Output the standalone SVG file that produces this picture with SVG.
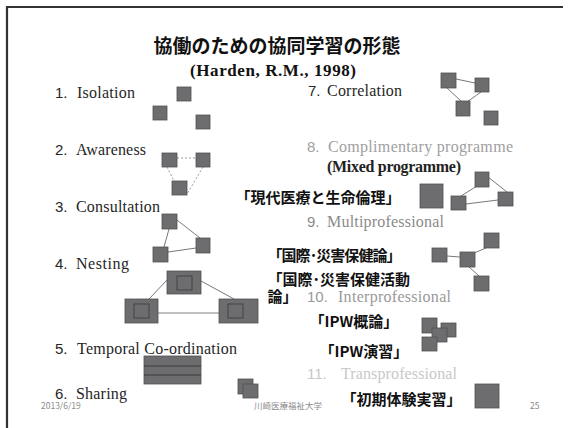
<svg xmlns="http://www.w3.org/2000/svg" width="568" height="428" viewBox="0 0 568 428">
<style>
.sq{fill:#6d6d70;stroke:#525254;stroke-width:0.8}
.ln{stroke:#555;stroke-width:0.8;fill:none}
.dot{stroke:#8a8a8a;stroke-width:0.9;stroke-dasharray:2 2;fill:none}
.num{font-family:"Liberation Sans","DejaVu Sans",sans-serif;font-size:15px}
.lbl{font-family:"Liberation Serif","DejaVu Serif",serif;font-size:16px}
.cjk{font-family:"Noto Sans CJK JP","Noto Sans",sans-serif;font-size:15px;font-weight:bold;fill:#111}
.dark{fill:#262626}
.foot{font-family:"Noto Sans CJK JP","Liberation Sans",sans-serif;font-size:8.5px;fill:#8c8c8c}
</style>
<rect width="568" height="428" fill="#fff"/>
<path d="M7 428V7H563" fill="none" stroke="#333" stroke-width="2.2"/>

<g id="title">
<text x="277" y="53" text-anchor="middle" font-family="'Noto Sans CJK JP',sans-serif" font-size="19" font-weight="bold" fill="#111">協働のための協同学習の形態</text>
<text x="190" y="76" font-family="'Liberation Serif',serif" font-size="17" font-weight="bold" fill="#111" textLength="166">(Harden, R.M.,  1998)</text>
</g>

<g id="connectors">
<line class="ln" x1="456" y1="79" x2="475" y2="83"/>
<line class="ln" x1="447" y1="88" x2="461" y2="101"/>
<line class="ln" x1="481" y1="92" x2="467" y2="102"/>
<line class="dot" x1="177" y1="158" x2="196" y2="158"/>
<line class="dot" x1="167" y1="167" x2="174" y2="181"/>
<line class="dot" x1="203" y1="167" x2="187" y2="194"/>
<line class="ln" x1="177" y1="220" x2="200" y2="238"/>
<line class="ln" x1="169" y1="229" x2="164" y2="247"/>
<line class="ln" x1="168" y1="252" x2="196" y2="248"/>
<line class="ln" x1="167" y1="280" x2="149" y2="299"/>
<line class="ln" x1="201" y1="281" x2="234" y2="299"/>
<line x1="158" y1="313" x2="219" y2="313" stroke="#aaa" stroke-width="1.3"/>
<line class="ln" x1="461" y1="196" x2="477" y2="186"/>
<line class="ln" x1="488" y1="177" x2="507" y2="192"/>
<line class="ln" x1="466" y1="204" x2="498" y2="200"/>
<line class="ln" x1="447" y1="256" x2="460" y2="257"/>
<line class="ln" x1="474" y1="253" x2="486" y2="248"/>
<line class="ln" x1="469" y1="267" x2="479" y2="276"/>
</g>

<g id="n1">
<text y="98"><tspan class="num dark" x="55">1.</tspan><tspan class="lbl dark" x="77" textLength="58">Isolation</tspan></text>
<rect class="sq" x="177" y="87" width="14" height="14"/>
<rect class="sq" x="153" y="106" width="14" height="14"/>
<rect class="sq" x="196" y="115" width="14" height="14"/>
</g>

<g id="n2">
<text y="155"><tspan class="num dark" x="55">2.</tspan><tspan class="lbl dark" x="76" textLength="70">Awareness</tspan></text>
<rect class="sq" x="162" y="153" width="15" height="14"/>
<rect class="sq" x="196" y="153" width="14" height="14"/>
<rect class="sq" x="172" y="181" width="15" height="14"/>
</g>

<g id="n3">
<text y="212"><tspan class="num dark" x="55">3.</tspan><tspan class="lbl dark" x="76" textLength="84">Consultation</tspan></text>
<rect class="sq" x="162" y="214" width="15" height="15"/>
<rect class="sq" x="196" y="238" width="14" height="15"/>
<rect class="sq" x="153" y="247" width="15" height="15"/>
</g>

<g id="n4">
<text y="269"><tspan class="num dark" x="55">4.</tspan><tspan class="lbl dark" x="76" textLength="53">Nesting</tspan></text>
<rect class="sq" x="167" y="271" width="34" height="23"/>
<rect x="177" y="276" width="15" height="14" fill="#6d6d70" stroke="#3e3e40" stroke-width="0.9"/>
<rect class="sq" x="125" y="299" width="33" height="24"/>
<rect x="134" y="304" width="15" height="14" fill="#6d6d70" stroke="#3e3e40" stroke-width="0.9"/>
<rect class="sq" x="219" y="299" width="39" height="24"/>
<rect x="228" y="304" width="15" height="14" fill="#6d6d70" stroke="#3e3e40" stroke-width="0.9"/>
</g>

<g id="n5">
<text y="354"><tspan class="num dark" x="55">5.</tspan><tspan class="lbl dark" x="77" textLength="160">Temporal Co-ordination</tspan></text>
<rect class="sq" x="144" y="356" width="57" height="28"/>
<line x1="144" y1="366" x2="201" y2="366" stroke="#333" stroke-width="0.9"/>
<line x1="144" y1="375" x2="201" y2="375" stroke="#333" stroke-width="0.9"/>
</g>

<g id="n6">
<text y="399"><tspan class="num dark" x="55">6.</tspan><tspan class="lbl dark" x="76" textLength="51">Sharing</tspan></text>
<rect class="sq" x="238" y="379" width="15" height="15"/>
<rect class="sq" x="243" y="384" width="15" height="14"/>
</g>

<g id="n7">
<text y="96"><tspan class="num dark" x="308">7.</tspan><tspan class="lbl dark" x="327" textLength="75">Correlation</tspan></text>
<rect class="sq" x="441" y="73" width="15" height="15"/>
<rect class="sq" x="475" y="78" width="14" height="14"/>
<rect class="sq" x="456" y="101" width="14" height="15"/>
<rect class="sq" x="484" y="111" width="14" height="14"/>
</g>

<g id="n8">
<text y="152" fill="#a0a0a0"><tspan class="num" x="307">8.</tspan><tspan class="lbl" x="328" textLength="185">Complimentary programme</tspan></text>
<text x="327" y="172" font-family="'Liberation Serif',serif" font-size="16" font-weight="bold" fill="#222" textLength="134">(Mixed programme)</text>
<text class="cjk" x="235.5" y="203">「現代医療と生命倫理」</text>
<rect class="sq" x="420" y="184" width="23" height="24"/>
<rect class="sq" x="451" y="196" width="15" height="14"/>
<rect class="sq" x="475" y="172" width="14" height="15"/>
<rect class="sq" x="498" y="192" width="15" height="14"/>
</g>

<g id="n9">
<text y="227" fill="#8a8a8a"><tspan class="num" x="307">9.</tspan><tspan class="lbl" x="327" textLength="117">Multiprofessional</tspan></text>
<text class="cjk" x="267.5" y="261" textLength="134">「国際･災害保健論」</text>
<rect class="sq" x="432" y="248" width="15" height="14"/>
<rect class="sq" x="460" y="252" width="15" height="15"/>
<rect class="sq" x="484" y="233" width="15" height="15"/>
<rect class="sq" x="474" y="276" width="15" height="15"/>
</g>

<g id="n10">
<text class="cjk" x="267.5" y="285">「国際･災害保健活動</text>
<text class="cjk" x="267.5" y="302">論」</text>
<text y="302" fill="#999"><tspan class="num" x="307">10.</tspan><tspan class="lbl" x="338" textLength="113">Interprofessional</tspan></text>
<text class="cjk" x="309.5" y="327">「IPW概論」</text>
<text class="cjk" x="319.5" y="357">「IPW演習」</text>
<rect class="sq" x="422" y="318" width="15" height="15"/>
<rect class="sq" x="441" y="323" width="15" height="14"/>
<rect class="sq" x="432" y="328" width="15" height="14"/>
<rect class="sq" x="422" y="337" width="15" height="14"/>
</g>

<g id="n11">
<text y="379" fill="#c8c8c8"><tspan class="num" x="307">11.</tspan><tspan class="lbl" x="341" textLength="116">Transprofessional</tspan></text>
<text class="cjk" x="341.5" y="405">「初期体験実習」</text>
<rect class="sq" x="475" y="384" width="24" height="24"/>
</g>

<g id="footer">
<text class="foot" x="41" y="409">2013/6/19</text>
<text class="foot" x="254" y="409">川崎医療福祉大学</text>
<text class="foot" x="530" y="409">25</text>
</g>
</svg>
